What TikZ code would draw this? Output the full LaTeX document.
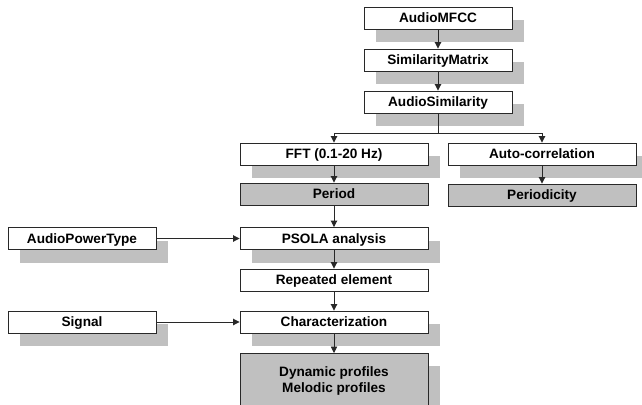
\documentclass[tikz,border=0pt]{standalone}
\usepackage{fontspec}
\setmainfont{Liberation Sans}
\usetikzlibrary{arrows.meta,shadows}
\definecolor{shadowgray}{RGB}{192,192,192}
\definecolor{linegray}{RGB}{40,40,40}
\tikzset{
  basebox/.style={draw=linegray, line width=0.9pt, fill=white, inner sep=0pt,
    minimum width=188pt, minimum height=22pt,
    font=\fontsize{13.6}{16}\selectfont\bfseries},
  flatshadow/.style={general shadow={shadow xshift=12pt, shadow yshift=-13pt, fill=shadowgray}},
  plainbox/.style={basebox, text height=9.8pt, text depth=0pt},
  box/.style={plainbox, flatshadow},
  smallbox/.style={box, minimum width=148pt},
  resultbox/.style={plainbox, fill=shadowgray},
  link/.style={draw=linegray, line width=0.9pt, -{Triangle[width=6.5pt,length=6.5pt]}}
}
\begin{document}
\begin{tikzpicture}[x=1pt,y=-1pt]
      \useasboundingbox (0,0) rectangle (642,404);

      % top chain
      \node[smallbox] (mfcc) at (438,18) {AudioMFCC};
      \node[smallbox] (simmat) at (438,60) {SimilarityMatrix};
      \node[smallbox] (audiosim) at (438,102) {AudioSimilarity};
      \draw[link] (mfcc) -- (simmat);
      \draw[link] (simmat) -- (audiosim);

      % two branches
      \node[box] (fft) at (334,154) {FFT (0.1-20 Hz)};
      \node[box] (autocorr) at (542,154) {Auto-correlation};
      \coordinate (split) at (438,133);
      \draw[line width=0.9pt, draw=linegray] (audiosim) -- (split);
      \draw[link] (split) -| (fft);
      \draw[link] (split) -| (autocorr);

      \node[resultbox] (period) at (334,194) {Period};
      \node[resultbox] (periodicity) at (542,195) {Periodicity};
      \draw[link] (fft) -- (period);
      \draw[link] (autocorr) -- (periodicity);

      % main column
      \node[box] (psola) at (334,238.5) {PSOLA analysis};
      \node[plainbox] (repeated) at (334,280) {Repeated element};
      \node[box] (charac) at (334,322) {Characterization};
      \draw[link] (period) -- (psola);
      \draw[link] (psola) -- (repeated);
      \draw[link] (repeated) -- (charac);

      \node[basebox, fill=shadowgray, flatshadow, minimum height=56pt,
        align=center, anchor=north] (profiles) at (334,353)
        {Dynamic profiles\\Melodic profiles};
      \draw[link] (charac) -- (profiles);

      % inputs on the left
      \node[smallbox] (powertype) at (82,238.5) {AudioPowerType};
      \node[smallbox] (signal) at (82,322) {Signal};
      \draw[link] (powertype) -- (psola);
      \draw[link] (signal) -- (charac);
    \end{tikzpicture}
\end{document}
